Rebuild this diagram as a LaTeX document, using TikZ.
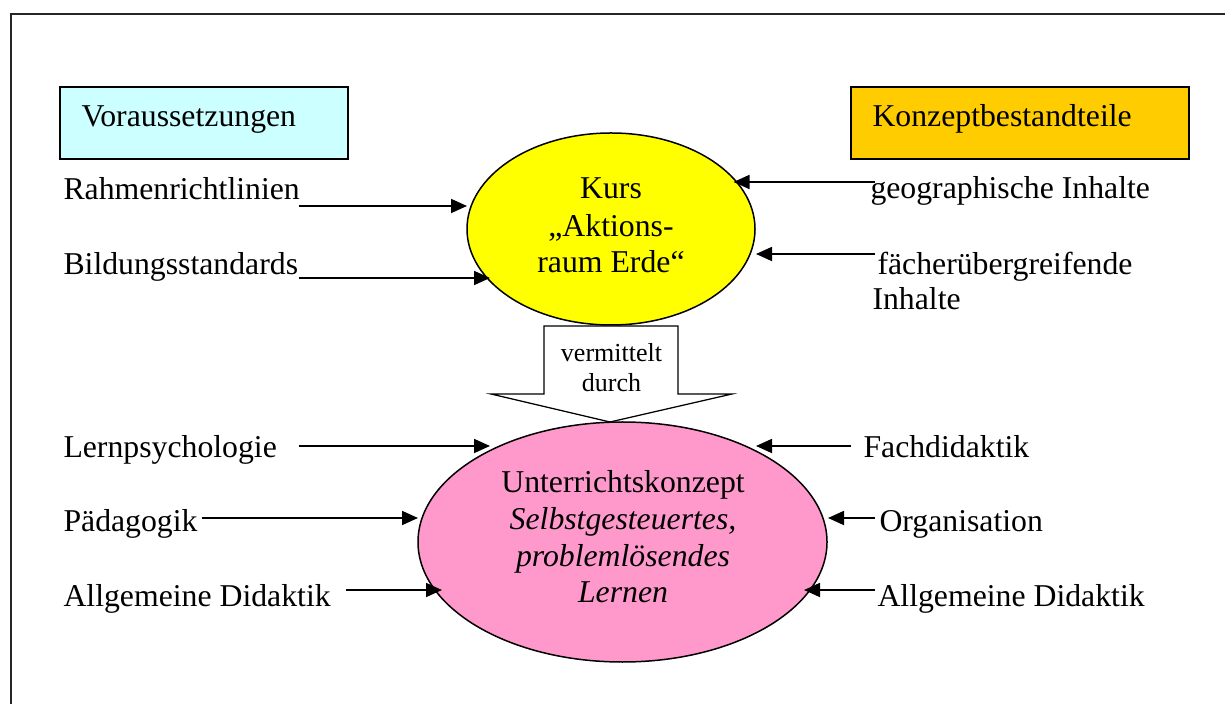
\documentclass[tikz,border=0pt]{standalone}
\usepackage{fontspec}
\setmainfont{Liberation Serif}
\usetikzlibrary{arrows.meta,shapes.geometric}
\definecolor{cyanbox}{HTML}{CCFFFF}
\definecolor{orangebox}{HTML}{FFCC00}
\definecolor{yellowell}{HTML}{FFFF00}
\definecolor{pinkell}{HTML}{FF99CC}
\begin{document}
\begin{tikzpicture}[x=0.4pt,y=-0.4pt,
  font=\fontsize{12.7pt}{15pt}\selectfont,
  txt/.style={anchor=base west, inner sep=0pt},
  ctxt/.style={anchor=base, inner sep=0pt},
  smalltxt/.style={anchor=base, inner sep=0pt, font=\fontsize{10.4pt}{12pt}\selectfont},
  headbox/.style={draw=black, line width=0.8pt, inner sep=0pt, anchor=north west, minimum height=28.8pt},
  ell/.style={ellipse, draw=black, line width=0.6pt, inner sep=0pt, outer sep=0pt},
  arr/.style={line width=0.7pt, -{Triangle[length=6.4pt,width=5.6pt]}},
  framestyle/.style={draw=black!85, line width=0.8pt}]
\useasboundingbox (0,0) rectangle (1225,704);

% frame (cut at right and bottom)
\draw[framestyle] (11,704) -- (11,14) -- (1225,14);

% header boxes
\node[headbox, fill=cyanbox, minimum width=115.4pt] (vorbox) at (58.5,86) {};
\node[txt] (vortxt) at (81,127) {Voraussetzungen};
\node[headbox, fill=orangebox, minimum width=135.2pt] (konbox) at (850,86) {};
\node[txt] (kontxt) at (872,127) {Konzeptbestandteile};

% block arrow "vermittelt durch"
\draw[line width=0.5pt, fill=white] (544,326) -- (678,326) -- (678,394) -- (732,394)
  -- (610,422) -- (491,394) -- (544,394) -- cycle;
\node[smalltxt] (verm1) at (611.5,362) {vermittelt};
\node[smalltxt] (verm2) at (611.5,392) {durch};

% ellipses
\node[ell, fill=yellowell, minimum width=115.2pt, minimum height=76.8pt] (kurs) at (611,229) {};
\node[ctxt] (kurs1) at (611,199) {Kurs};
\node[ctxt] (kurs2) at (611,236.5) {„Aktions-};
\node[ctxt] (kurs3) at (611,273) {raum Erde“};

\node[ell, fill=pinkell, minimum width=163.6pt, minimum height=96pt] (unt) at (622.5,542) {};
\node[ctxt] (unt1) at (623,493) {Unterrichtskonzept};
\node[ctxt] (unt2) at (623,530) {\itshape Selbstgesteuertes,};
\node[ctxt] (unt3) at (623,567) {\itshape problemlösendes};
\node[ctxt] (unt4) at (623,603) {\itshape Lernen};

% left labels
\node[txt] (rahmen) at (63,200) {Rahmenrichtlinien};
\node[txt] (bildung) at (63,275) {Bildungsstandards};
\node[txt] (lernpsy) at (63,458) {Lernpsychologie};
\node[txt] (paed) at (63,532) {Pädagogik};
\node[txt] (allgl) at (63,606) {Allgemeine Didaktik};

% right labels
\node[txt] (geo) at (870,199) {geographische Inhalte};
\node[txt] (faech1) at (877,275) {fächerübergreifende};
\node[txt] (faech2) at (872,310) {Inhalte};
\node[txt] (fach) at (863,458) {Fachdidaktik};
\node[txt] (org) at (879,532) {Organisation};
\node[txt] (allgr) at (877,606) {Allgemeine Didaktik};

% connector end points
\coordinate (a1s) at (298.5,206); \coordinate (a1e) at (467,206);
\coordinate (a2s) at (298.5,278); \coordinate (a2e) at (490,278);
\coordinate (a3s) at (875,182);   \coordinate (a3e) at (733.5,182);
\coordinate (a4s) at (875,254);   \coordinate (a4e) at (756,254);
\coordinate (a5s) at (298.5,446); \coordinate (a5e) at (490,446);
\coordinate (a6s) at (201.7,518); \coordinate (a6e) at (418,518);
\coordinate (a7s) at (346,590);   \coordinate (a7e) at (442,590);
\coordinate (a8s) at (851,446);   \coordinate (a8e) at (756,446);
\coordinate (a9s) at (875,518);   \coordinate (a9e) at (828,518);
\coordinate (a10s) at (875,590);  \coordinate (a10e) at (804,590);

\draw[arr] (a1s) -- (a1e);
\draw[arr] (a2s) -- (a2e);
\draw[arr] (a3s) -- (a3e);
\draw[arr] (a4s) -- (a4e);
\draw[arr] (a5s) -- (a5e);
\draw[arr] (a6s) -- (a6e);
\draw[arr] (a7s) -- (a7e);
\draw[arr] (a8s) -- (a8e);
\draw[arr] (a9s) -- (a9e);
\draw[arr] (a10s) -- (a10e);
\end{tikzpicture}
\end{document}
